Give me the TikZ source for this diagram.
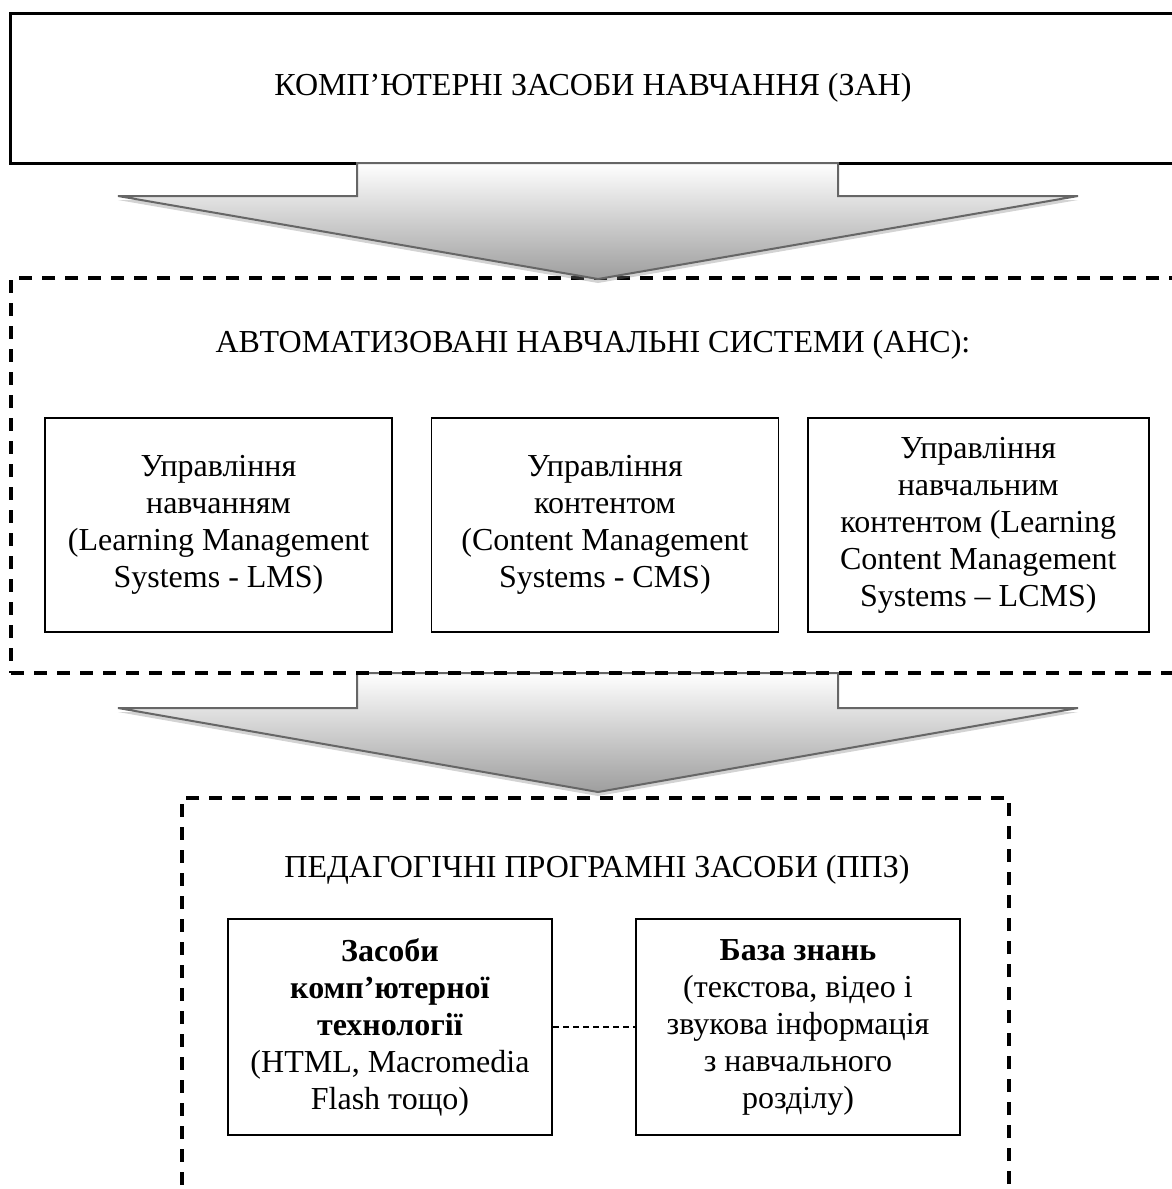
\documentclass[tikz,border=0pt]{standalone}
\usepackage{fontspec}
\setmainfont{Liberation Serif}
\usetikzlibrary{positioning,shadows}

\begin{document}
\begin{tikzpicture}
[
    x=1pt, y=-1pt,
    every node/.style={font=\fontsize{32}{37}\selectfont, align=center, inner sep=0pt},
    zan/.style={draw, line width=3pt, minimum width=1165pt, minimum height=150pt},
    group/.style={draw, line width=3.2pt, dash pattern=on 13pt off 10pt},
    system/.style={draw, line width=1.4pt, minimum width=347pt, minimum height=214pt},
    tool/.style={draw, line width=2.8pt, minimum width=324pt, minimum height=216pt},
    blockarrow/.style={draw=black!60, line width=2pt, top color=white, bottom color=black!38,
        drop shadow={shadow xshift=0pt, shadow yshift=-4pt, opacity=0.35, fill=black!50}},
]
\useasboundingbox (0,0) rectangle (1171,1189);

\node[zan] (zan) at (593,88) {КОМП’ЮТЕРНІ ЗАСОБИ НАВЧАННЯ (ЗАН)};

% second arrow lies under the dashed frame
\path[blockarrow] (357,673) -- (838,673) -- (838,708) -- (1078,708)
    -- (598,792) -- (118,708) -- (357,708) -- cycle;

\node[group, minimum width=1170pt, minimum height=395pt] (ans) at (596,475.5) {};
\node (anstitle) at (593,345) {АВТОМАТИЗОВАНІ НАВЧАЛЬНІ СИСТЕМИ (АНС):};
\node[system] (lms) at (218.5,525) {Управління\\навчанням\\(Learning Management\\Systems - LMS)};
\node[system, right=38pt of lms] (cms) {Управління\\контентом\\(Content Management\\Systems - CMS)};
\node[system, right=28pt of cms, minimum width=341pt] (lcms) {Управління\\навчальним\\контентом (Learning\\Content Management\\Systems – LCMS)};

\path[blockarrow] (357,163) -- (838,163) -- (838,196) -- (1078,196)
    -- (598,279) -- (118,196) -- (357,196) -- cycle;

\node[group, minimum width=827pt, minimum height=410pt] (ppz) at (595.5,1003) {};
\node (ppztitle) at (597,870) {ПЕДАГОГІЧНІ ПРОГРАМНІ ЗАСОБИ (ППЗ)};
\node[tool] (tech) at (390,1027) {\textbf{Засоби}\\\textbf{комп’ютерної}\\\textbf{технології}\\(HTML, Macromedia\\Flash тощо)};
\node[tool] (base) at (798,1027) {\textbf{База знань}\\(текстова, відео і\\звукова інформація\\з навчального\\розділу)};
\draw[line width=1.3pt, dash pattern=on 6pt off 4pt] (tech.east) -- (base.west);
\end{tikzpicture}
\end{document}
